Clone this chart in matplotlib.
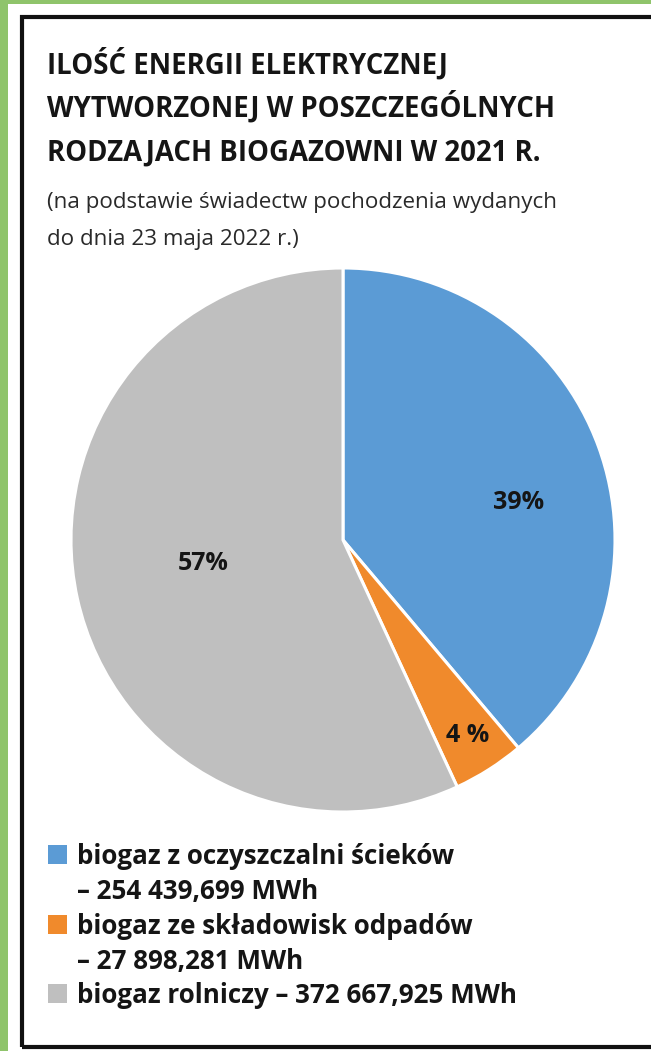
import numpy as np
import matplotlib
matplotlib.use("Agg")
import matplotlib.pyplot as plt
from matplotlib.patches import Rectangle

plt.rcParams['font.family'] = ['Open Sans', 'DejaVu Sans']

# data
categories = ["biogaz z oczyszczalni ścieków",
              "biogaz ze składowisk odpadów",
              "biogaz rolniczy"]
energy_mwh = [254439.699, 27898.281, 372667.925]
energy_text = ["254 439,699", "27 898,281", "372 667,925"]
pct_labels = ["39%", "4 %", "57%"]
colors = ["#5b9bd5", "#f08a2c", "#bfbfbf"]

title_lines = ["ILOŚĆ ENERGII ELEKTRYCZNEJ",
               "WYTWORZONEJ W POSZCZEGÓLNYCH",
               "RODZAJACH BIOGAZOWNI W 2021 R."]
subtitle_lines = ["(na podstawie świadectw pochodzenia wydanych",
                  "do dnia 23 maja 2022 r.)"]

W, H = 651, 1051
fig = plt.figure(figsize=(W / 100, H / 100), dpi=100, facecolor="#8fc46b")

def fx(x):
    return x / W

def fy(y):
    return 1 - y / H

# white card and black frame
fig.add_artist(Rectangle((fx(8), 0), 1, fy(4), transform=fig.transFigure,
                         facecolor="white", edgecolor="none", zorder=0))
fig.add_artist(Rectangle((fx(22), fy(1047)), 1, fy(17) - fy(1047),
                         transform=fig.transFigure, facecolor="none",
                         edgecolor="#111111", linewidth=3, zorder=1))

# title and subtitle
for y, line in zip([74, 117, 161], title_lines):
    fig.text(fx(47), fy(y), line, fontsize=19.8, fontweight="bold",
             color="#151515", va="baseline", ha="left")
for y, line in zip([208, 245], subtitle_lines):
    fig.text(fx(47), fy(y), line, fontsize=16.1, color="#2a2a2a",
             va="baseline", ha="left")

# pie
cx, cy, r = 343, 540, 272
ax = fig.add_axes([fx(cx - r), fy(cy + r), 2 * r / W, 2 * r / H])
wedges, _ = ax.pie(energy_mwh, colors=colors, startangle=90, counterclock=False,
                   wedgeprops=dict(edgecolor="white", linewidth=2.2))
ax.set_xlim(-1, 1)
ax.set_ylim(-1, 1)
ax.set_aspect("equal")
ax.axis("off")

label_r = [0.66, 0.85, 0.52]
label_shift = [-8, 0, -3]
for w, txt, lr, sh in zip(wedges, pct_labels, label_r, label_shift):
    ang = np.deg2rad((w.theta1 + w.theta2) / 2 + sh)
    ax.text(lr * np.cos(ang), lr * np.sin(ang), txt, ha="center", va="center",
            fontsize=18, fontweight="bold", color="#151515")

# legend
legend_lines = [
    (colors[0], categories[0]),
    (None, "– " + energy_text[0] + " MWh"),
    (colors[1], categories[1]),
    (None, "– " + energy_text[1] + " MWh"),
    (colors[2], categories[2] + " – " + energy_text[2] + " MWh"),
]
for y, (col, line) in zip([864, 899, 934, 969, 1003], legend_lines):
    if col is not None:
        fig.add_artist(Rectangle((fx(48), fy(y)), fx(19), 19 / H,
                                 transform=fig.transFigure, facecolor=col,
                                 edgecolor="none"))
    fig.text(fx(77), fy(y), line, fontsize=18.7, fontweight="bold",
             color="#151515", va="baseline", ha="left")

fig.savefig("out.png", dpi=100, facecolor=fig.get_facecolor())
